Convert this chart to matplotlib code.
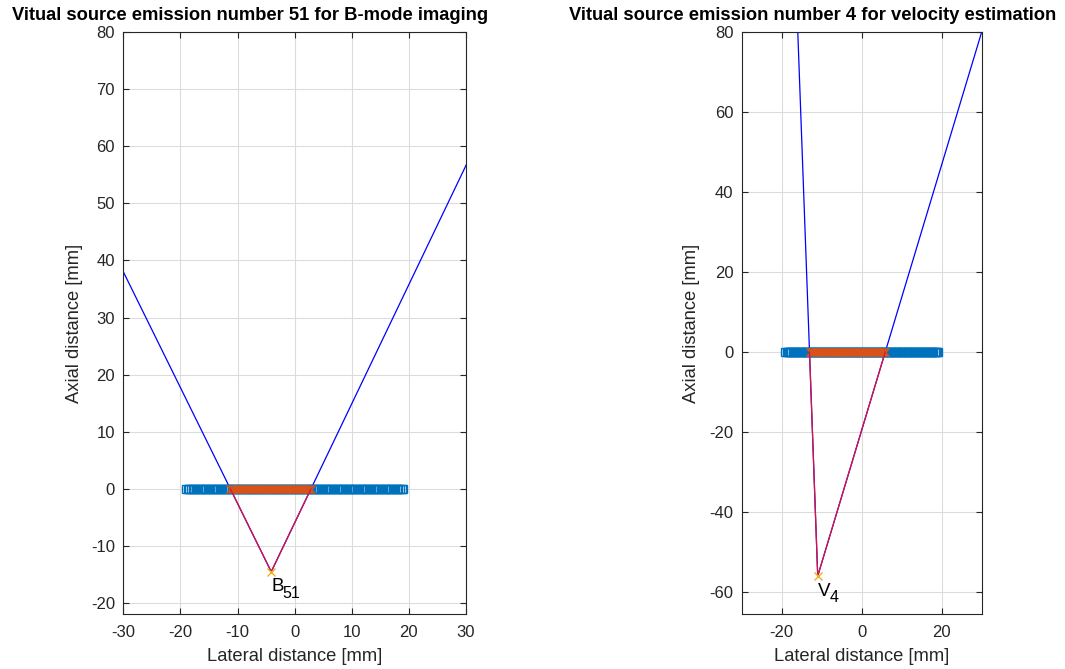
import numpy as np
import matplotlib
matplotlib.use("Agg")
import matplotlib.pyplot as plt

plt.rcParams['font.family'] = ['Liberation Sans', 'DejaVu Sans']
plt.rcParams['axes.unicode_minus'] = False

# ---- data ----
n_elements = 128
pitch = 0.3  # mm
element_x = (np.arange(n_elements) - (n_elements - 1) / 2) * pitch

# B-mode emission 51
bmode_active = (26, 74)          # active element index range [start, stop)
bmode_vs = (-4.1, -14.5)          # virtual source (x, z) in mm
bmode_label = ('B', '51')
bmode_title = 'Vitual source emission number 51 for B-mode imaging'

# Velocity emission 4
vel_active = (20, 84)
vel_vs = (-11.0, -56.0)
vel_label = ('V', '4')
vel_title = 'Vitual source emission number 4 for velocity estimation'

W, H = 1065, 669
fig = plt.figure(figsize=(W / 100, H / 100), dpi=100)

AX_COL = '#262626'
GRID_COL = '#dcdcdc'


def make_axes(px0, px1, py0, py1):
    return fig.add_axes([px0 / W, 1 - py1 / H, (px1 - px0) / W, (py1 - py0) / H])


def draw(ax, active, vs, label, xlim, ylim, xticks, yticks, ylabel_x):
    ax.set_axisbelow(True)
    ax.grid(True, color=GRID_COL, linewidth=0.8)
    a0, a1 = active
    ex_left = element_x[a0]
    ex_right = element_x[a1 - 1]
    ztop = ylim[1]
    vx, vz = vs
    for ex in (ex_left, ex_right):
        xt = vx + (ex - vx) * (ztop - vz) / (0 - vz)
        ax.plot([vx, xt], [vz, ztop], color='#0000ff', lw=0.9, zorder=2)
    ax.plot(element_x, np.zeros_like(element_x), linestyle='none', marker='s',
            markersize=5.8, markerfacecolor='none', markeredgecolor='#0072BD',
            markeredgewidth=1.0, zorder=3)
    ax.plot(element_x[a0:a1], np.zeros(a1 - a0), linestyle='none', marker='x',
            markersize=5.8, markeredgecolor='#D95319', markeredgewidth=1.0, zorder=4)
    for ex in (ex_left, ex_right):
        ax.plot([vx, ex], [vz, 0], color='#dc143c', lw=0.9, zorder=5)
    ax.plot([vx], [vz], linestyle='none', marker='x', markersize=6,
            markeredgecolor='#EDB120', markeredgewidth=1.0, zorder=6)
    main, sub = label
    t = ax.annotate(main, (vx, vz), xytext=(0, -15), textcoords='offset pixels',
                    ha='left', va='center', fontsize=13.5, color='black')
    fig.canvas.draw()
    bb = t.get_window_extent()
    ax.annotate(sub, (vx, vz), xytext=(bb.width - 1, -22), textcoords='offset pixels',
                ha='left', va='center', fontsize=11.5, color='black')
    ax.set_xlim(*xlim)
    ax.set_ylim(*ylim)
    ax.set_xticks(xticks)
    ax.set_yticks(yticks)
    ax.tick_params(direction='in', length=4, width=0.8, colors=AX_COL,
                   labelsize=12, top=True, right=True)
    ax.tick_params(axis='x', pad=8)
    ax.tick_params(axis='y', pad=6)
    for s in ax.spines.values():
        s.set_color(AX_COL)
        s.set_linewidth(0.8)
    ax.set_xlabel('Lateral distance [mm]', fontsize=13.2, color=AX_COL)
    ax.set_ylabel('Axial distance [mm]', fontsize=13.2, color=AX_COL)
    ax.xaxis.set_label_coords(0.5, -0.058)
    ax.yaxis.set_label_coords(ylabel_x, 0.5)


ax1 = make_axes(123.3, 466.0, 32, 614)
ax2 = make_axes(741.6, 982.0, 32, 614)
ax1.set_xlim(-30, 30); ax1.set_ylim(-21.9, 80)
ax2.set_xlim(-30, 30); ax2.set_ylim(-65.5, 80)
draw(ax1, bmode_active, bmode_vs, bmode_label, (-30, 30), (-21.9, 80),
     np.arange(-30, 31, 10), np.arange(-20, 81, 10), -0.118)
draw(ax2, vel_active, vel_vs, vel_label, (-30, 30), (-65.5, 80),
     np.arange(-20, 21, 20), np.arange(-60, 81, 20), -0.175)

fig.text(250 / W, 1 - 16 / H, bmode_title, ha='center', va='center',
         fontsize=13.2, fontweight='bold', color='black')
fig.text(813 / W, 1 - 16 / H, vel_title, ha='center', va='center',
         fontsize=13.2, fontweight='bold', color='black')

fig.savefig('out.png', dpi=100)
